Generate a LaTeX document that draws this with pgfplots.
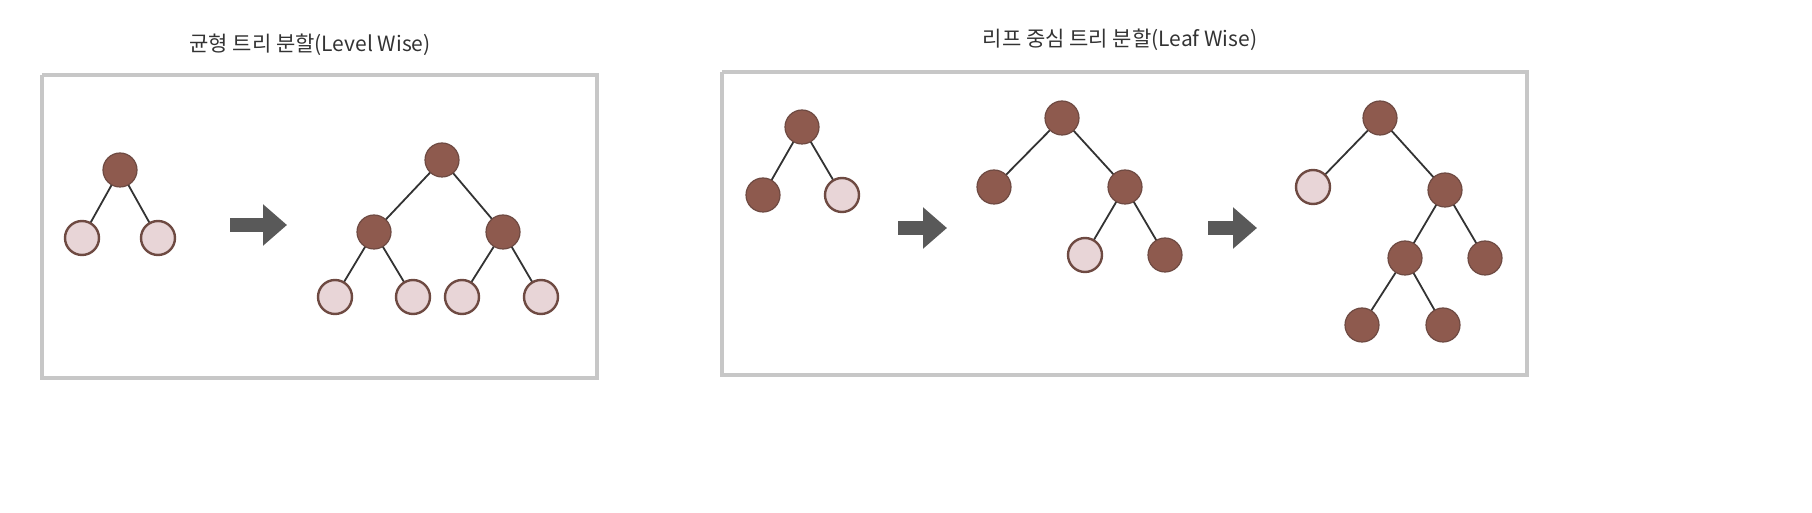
\documentclass[border=0pt]{standalone}
\usepackage{pgfplots}
\pgfplotsset{compat=1.18}
\usepackage{fontspec}
\setmainfont{Noto Sans CJK KR}
\usetikzlibrary{arrows.meta}
\definecolor{dk}{HTML}{8E5A4E}
\definecolor{lt}{HTML}{E8D5D7}
\definecolor{ol}{HTML}{6E4A42}
\begin{document}
\begin{tikzpicture}
\begin{axis}[hide axis, x=0.5pt, y=0.5pt, xmin=0, xmax=1812, ymin=0, ymax=513, y dir=reverse, clip=false]
% full canvas (invisible)
\addplot[draw=none] coordinates {(0,0)(1812,513)};
\draw[white, line width=0pt] (axis cs:0,0) rectangle (axis cs:1812,513);
% frames
\addplot[color=black!22, line width=2pt] coordinates {(42,75)(597,75)(597,378)(42,378)(42,75)};
\addplot[color=black!22, line width=2pt] coordinates {(722,72)(1527,72)(1527,375)(722,375)(722,72)};
% edges
\addplot[black!80, line width=0.9pt] table {
x y
120 170
82 238

120 170
158 238

442 160
374 232

442 160
503 232

374 232
335 297

374 232
413 297

503 232
462 297

503 232
541 297

802 127
763 195

802 127
842 195

1062 118
994 187

1062 118
1125 187

1125 187
1085 255

1125 187
1165 255

1380 118
1313 187

1380 118
1445 190

1445 190
1405 258

1445 190
1485 258

1405 258
1362 325

1405 258
1443 325
};
% arrows
\addplot[black!65, line width=7pt, -{Triangle[length=12pt,width=20pt]}] coordinates {(230,225)(287,225)};
\addplot[black!65, line width=7pt, -{Triangle[length=12pt,width=20pt]}] coordinates {(898,228)(947,228)};
\addplot[black!65, line width=7pt, -{Triangle[length=12pt,width=20pt]}] coordinates {(1208,228)(1257,228)};
% dark nodes
\addplot[only marks, mark=*, mark size=8.5pt, mark options={fill=dk, draw=ol, line width=0.6pt}] coordinates {
(120,170)(442,160)(374,232)(503,232)
(802,127)(763,195)
(1062,118)(994,187)(1125,187)(1165,255)
(1380,118)(1445,190)(1405,258)(1485,258)(1362,325)(1443,325)};
% light nodes
\addplot[only marks, mark=*, mark size=8.5pt, mark options={fill=lt, draw=ol, line width=1.2pt}] coordinates {
(82,238)(158,238)(335,297)(413,297)(462,297)(541,297)
(842,195)(1085,255)(1313,187)};
\node[font=\fontsize{10.5}{13}\selectfont, text=black!80] at (axis cs:310,45) {균형 트리 분할(Level Wise)};
\node[font=\fontsize{10.5}{13}\selectfont, text=black!80] at (axis cs:1120,40) {리프 중심 트리 분할(Leaf Wise)};
\end{axis}
\end{tikzpicture}
\end{document}
